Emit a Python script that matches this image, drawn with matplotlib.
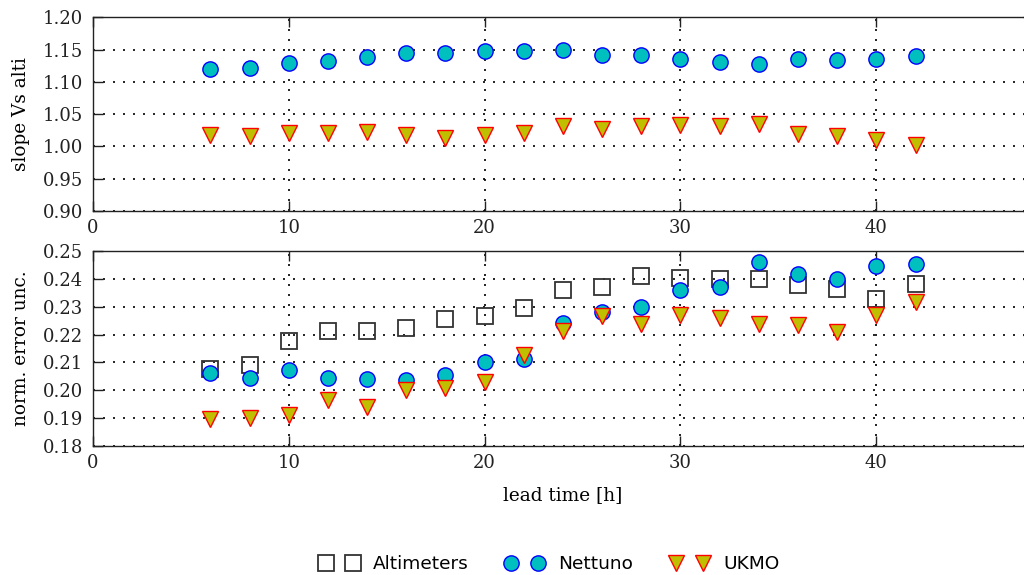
import numpy as np
import matplotlib
matplotlib.use("Agg")
import matplotlib.pyplot as plt
from matplotlib.ticker import FormatStrFormatter

# lead times [h]
lead = [6, 8, 10, 12, 14, 16, 18, 20, 22, 24, 26, 28, 30, 32, 34, 36, 38, 40, 42]

# slope vs altimeters
slope_nettuno = [1.120, 1.121, 1.129, 1.133, 1.139, 1.144, 1.144, 1.147, 1.148, 1.149,
                 1.142, 1.142, 1.136, 1.131, 1.127, 1.136, 1.134, 1.135, 1.140]
slope_ukmo = [1.017, 1.016, 1.021, 1.021, 1.022, 1.018, 1.013, 1.017, 1.021, 1.031,
              1.027, 1.031, 1.033, 1.031, 1.034, 1.020, 1.016, 1.010, 1.002]

# normalised error uncertainty
err_alti = [0.2075, 0.2091, 0.2177, 0.2214, 0.2212, 0.2225, 0.2255, 0.2268, 0.2296, 0.2360,
            0.2372, 0.2410, 0.2402, 0.2398, 0.2400, 0.2378, 0.2364, 0.2328, 0.2380]
err_nettuno = [0.2061, 0.2045, 0.2072, 0.2044, 0.2040, 0.2036, 0.2056, 0.2100, 0.2114, 0.2240,
               0.2282, 0.2300, 0.2360, 0.2370, 0.2460, 0.2416, 0.2400, 0.2447, 0.2452]
err_ukmo = [0.1896, 0.1900, 0.1912, 0.1964, 0.1940, 0.2000, 0.2008, 0.2030, 0.2127, 0.2213,
            0.2266, 0.2239, 0.2269, 0.2261, 0.2239, 0.2233, 0.2209, 0.2269, 0.2316]

plt.rcParams['font.family'] = 'DejaVu Serif'
fs = 13.3

fig = plt.figure(figsize=(10.24, 5.75), dpi=100)
ax1 = fig.add_axes([0.0908, 0.633, 0.918, 0.337])
ax2 = fig.add_axes([0.0908, 0.2243, 0.918, 0.3392])

ms = 11
sq = dict(marker='s', ls='none', ms=ms, mfc='none', mec='#333333', mew=1.3)
ci = dict(marker='o', ls='none', ms=ms, mfc='c', mec='b', mew=1.0)
tr = dict(marker='v', ls='none', ms=ms, mfc='y', mec='r', mew=1.0)

ax1.plot(lead, slope_nettuno, **ci)
ax1.plot(lead, slope_ukmo, **tr)

h1, = ax2.plot(lead, err_alti, label='Altimeters', **sq)
h2, = ax2.plot(lead, err_nettuno, label='Nettuno', **ci)
h3, = ax2.plot(lead, err_ukmo, label='UKMO', **tr)

ax1.set_ylim(0.90, 1.20)
ax1.set_yticks(np.arange(0.90, 1.2001, 0.05))
ax1.set_ylabel('slope Vs alti', fontsize=fs, labelpad=9)
ax2.set_ylim(0.18, 0.25)
ax2.set_yticks(np.arange(0.18, 0.2501, 0.01))
ax2.set_ylabel('norm. error unc.', fontsize=fs, labelpad=9)
ax2.set_xlabel('lead time [h]', fontsize=fs, labelpad=10)

for ax in (ax1, ax2):
    ax.set_xlim(0, 48)
    ax.set_xticks([0, 10, 20, 30, 40])
    ax.yaxis.set_major_formatter(FormatStrFormatter('%.2f'))
    ax.tick_params(direction='in', length=7.5, top=True, right=True,
                   labelsize=13, colors='#222222', width=1)
    ax.tick_params(axis='x', pad=6)
    ax.tick_params(axis='y', pad=7)
    ax.grid(True, color='k', linestyle=(0, (1.2, 4.8)), linewidth=1.2)
    for s in ax.spines.values():
        s.set_color('#222222')
        s.set_linewidth(1.0)

fig.legend(handles=[h1, h2, h3], loc='center', bbox_to_anchor=(0.537, 0.019),
           ncol=3, numpoints=2, frameon=False, columnspacing=2.0,
           handlelength=2.05, handletextpad=0.8,
           prop={'family': 'DejaVu Sans', 'size': fs})

fig.savefig('out.png', dpi=100)
